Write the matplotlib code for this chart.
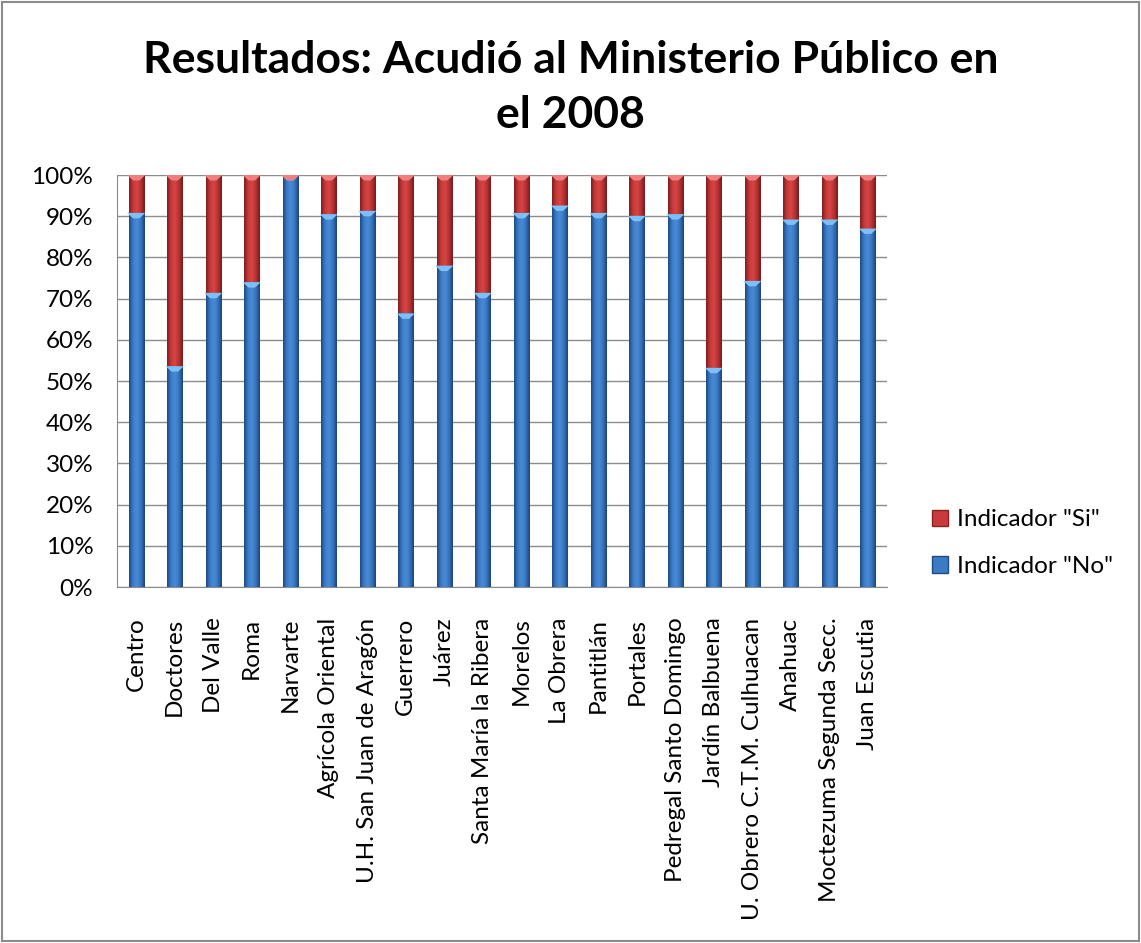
import matplotlib.pyplot as plt
import numpy as np
from matplotlib.colors import LinearSegmentedColormap
from matplotlib.patches import Patch

colonias = [
    "Centro", "Doctores", "Del Valle", "Roma", "Narvarte",
    "Agrícola Oriental", "U.H. San Juan de Aragón", "Guerrero", "Juárez",
    "Santa María la Ribera", "Morelos", "La Obrera", "Pantitlán", "Portales",
    "Pedregal Santo Domingo", "Jardín Balbuena", "U. Obrero C.T.M. Culhuacan",
    "Anahuac", "Moctezuma Segunda Secc.", "Juan Escutia",
]
# percentage of answers per colonia
pct_no = [90.8, 53.6, 71.4, 74.0, 100.0, 90.5, 91.3, 66.4, 78.0, 71.4,
          90.8, 92.6, 90.8, 90.1, 90.5, 53.2, 74.3, 89.2, 89.2, 87.0]
pct_si = [100 - v for v in pct_no]

plt.rcParams['font.family'] = ['Lato', 'DejaVu Sans']

fig = plt.figure(figsize=(11.41, 9.43), dpi=100)
ax = fig.add_axes([0.1025, 0.3775, 0.675, 0.4369])

x = np.arange(len(colonias))
width = 0.39
bars_no = ax.bar(x, pct_no, width, color="#3b7bc4", zorder=2)
bars_si = ax.bar(x, pct_si, width, bottom=pct_no, color="#c93a3a", zorder=2)

# cylinder-like shading across each bar
blue_cm = LinearSegmentedColormap.from_list(
    "b", ["#1f4a82", "#3b7bc8", "#4a8ad6", "#3675be", "#1e4478"])
red_cm = LinearSegmentedColormap.from_list(
    "r", ["#7e1f1f", "#c73838", "#d64545", "#b83232", "#741c1c"])
grad = np.linspace(0, 1, 64).reshape(1, -1)
for bars, cm in [(bars_no, blue_cm), (bars_si, red_cm)]:
    for b in bars:
        if b.get_height() <= 0:
            continue
        x0, y0 = b.get_x(), b.get_y()
        im = ax.imshow(grad, cmap=cm, aspect="auto", zorder=3,
                       extent=[x0, x0 + b.get_width(), y0, y0 + b.get_height()])
        im.set_clip_path(b)

# light bevel caps hanging from the top of each segment
cap = [(-1, 0), (1, 0), (0.35, -0.6), (-0.35, -0.6), (-1, 0)]
ax.scatter(x, pct_no, marker=cap, s=170, color="#7cc0f7", zorder=4,
           edgecolors="none")
ax.scatter(x, [100] * len(x), marker=cap, s=170, color="#f08080", zorder=4,
           edgecolors="none")

ax.set_xlim(-0.5, len(colonias) - 0.5)
ax.set_ylim(0, 100)
ax.set_yticks(np.arange(0, 101, 10))
ax.set_yticklabels([f"{v}%" for v in range(0, 101, 10)], fontsize=17.5)
ax.set_xticks(x)
ax.set_xticklabels(colonias, rotation=90, fontsize=17.5)
ax.tick_params(axis="x", length=0, pad=22)
ax.tick_params(axis="y", length=0, pad=17)
ax.grid(axis="y", color="#8c8c8c", linewidth=1.0, zorder=0)
for s in ["top", "right"]:
    ax.spines[s].set_visible(False)
for s in ["left", "bottom"]:
    ax.spines[s].set_color("#8c8c8c")

fig.text(0.5, 0.907, "Resultados: Acudió al Ministerio Público en\nel 2008",
         ha="center", va="center", fontsize=32, fontweight="bold",
         linespacing=1.45)

handles = [Patch(facecolor="#c93a3a", edgecolor="#8a2222", label='Indicador "Si"'),
           Patch(facecolor="#3b7bc4", edgecolor="#1f4a82", label='Indicador "No"')]
fig.legend(handles=handles, loc="center left", bbox_to_anchor=(0.798, 0.424),
           frameon=False, fontsize=17.5, handlelength=0.65, handleheight=0.65,
           handletextpad=0.35, labelspacing=1.05)

# outer frame
fig.patches.append(plt.Rectangle((0.002, 0.002), 0.996, 0.996,
                                 transform=fig.transFigure, fill=False,
                                 edgecolor="#8c8c8c", linewidth=1.5))

fig.savefig("out.png", dpi=100)
